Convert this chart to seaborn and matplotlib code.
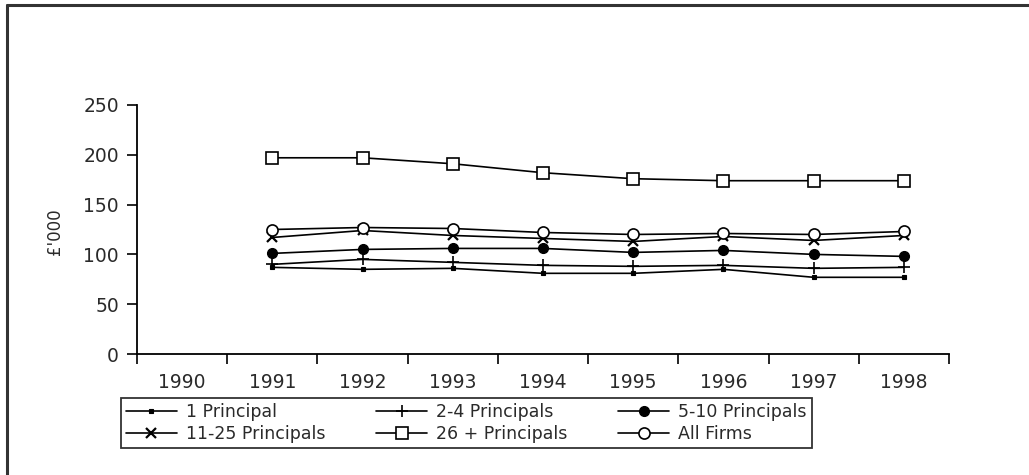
import matplotlib
matplotlib.use("Agg")
import matplotlib.pyplot as plt
import seaborn as sns
import numpy as np
import pandas as pd
from matplotlib.lines import Line2D

sns.set_theme(style="ticks")
plt.rcParams['font.family'] = ['DejaVu Sans']

# ---- data ----
categories = [1990, 1991, 1992, 1993, 1994, 1995, 1996, 1997, 1998]
years = [1991, 1992, 1993, 1994, 1995, 1996, 1997, 1998]
one_principal = [87, 85, 86, 81, 81, 85, 77, 77]
two_four = [90, 95, 92, 89, 88, 89, 86, 87]
five_ten = [101, 105, 106, 106, 102, 104, 100, 98]
eleven_25 = [117, 124, 119, 116, 113, 118, 114, 119]
twentysix_plus = [197, 197, 191, 182, 176, 174, 174, 174]
all_firms = [125, 127, 126, 122, 120, 121, 120, 123]
series_names = ["1 Principal", "2-4 Principals", "5-10 Principals",
                "11-25 Principals", "26 + Principals", "All Firms"]
yticks = [0, 50, 100, 150, 200, 250]

series = [one_principal, two_four, five_ten, eleven_25, twentysix_plus, all_firms]
styles = [
    dict(marker='s', ms=3, mfc='black', mec='black', mew=0.8),
    dict(marker='+', ms=9, mfc='black', mec='black', mew=1.2),
    dict(marker='o', ms=7, mfc='black', mec='black', mew=1.0),
    dict(marker='x', ms=7, mfc='black', mec='black', mew=1.6),
    dict(marker='s', ms=8, mfc='white', mec='black', mew=1.2),
    dict(marker='o', ms=8, mfc='white', mec='black', mew=1.2),
]

fig = plt.figure(figsize=(10.29, 4.75), dpi=100)
ax = fig.add_axes([137/1029, 1-354/475, (949-137)/1029, (354-105)/475])

handles = {}
for name, vals, st in zip(series_names, series, styles):
    df = pd.DataFrame({"year": years, "value": vals})
    sns.lineplot(data=df, x="year", y="value", ax=ax, color='black',
                 linewidth=1.2, legend=False, **st)
    handles[name] = Line2D([], [], color='black', linewidth=1.2, **st)

text_col = '#2a2a2a'
ax.set_xlim(categories[0] - 0.5, categories[-1] + 0.5)
ax.set_ylim(0, 250)
ax.set_yticks(yticks)
ax.set_yticklabels([str(v) for v in yticks], fontsize=13.5, color=text_col)
bounds = [c - 0.5 for c in categories] + [categories[-1] + 0.5]
ax.set_xticks(bounds)
ax.set_xticklabels([])
ax.set_xticks(categories, minor=True)
ax.set_xticklabels([str(c) for c in categories], minor=True, fontsize=13.5, color=text_col)
ax.tick_params(axis='x', which='minor', length=0, pad=14)
ax.tick_params(axis='x', which='major', length=7, width=1.2, color='black', direction='out')
ax.tick_params(axis='y', which='major', length=7, width=1.2, color='black', direction='out', pad=6)
ax.set_xlabel("")
ax.set_ylabel("£'000", fontsize=12, color=text_col)
ax.yaxis.set_label_coords((64 - 137) / 812, 0.49)
sns.despine(ax=ax)
for s in ['left', 'bottom']:
    ax.spines[s].set_linewidth(1.3)
    ax.spines[s].set_color('black')
ax.grid(False)

order = ["1 Principal", "11-25 Principals", "2-4 Principals",
         "26 + Principals", "5-10 Principals", "All Firms"]
leg = fig.legend([handles[n] for n in order], order, ncol=3,
                 loc='upper left',
                 bbox_to_anchor=(121/1029, 1-447/475, (812-121)/1029, (447-398)/475),
                 mode='expand', fontsize=12.5, frameon=True, fancybox=False,
                 edgecolor='black', handlelength=2.9, handletextpad=0.55,
                 borderpad=0.3, labelspacing=0.2, borderaxespad=0,
                 columnspacing=2.0)
leg.get_frame().set_linewidth(1.3)
for t in leg.get_texts():
    t.set_color(text_col)

# outer frame (left and top edges visible)
fig.add_artist(Line2D([7/1029, 7/1029], [0, 1-4.5/475], transform=fig.transFigure,
                      color='#333333', linewidth=2.2))
fig.add_artist(Line2D([7/1029, 1], [1-4.5/475, 1-4.5/475], transform=fig.transFigure,
                      color='#333333', linewidth=2.2))

fig.savefig("out.png", dpi=100, facecolor='white')
